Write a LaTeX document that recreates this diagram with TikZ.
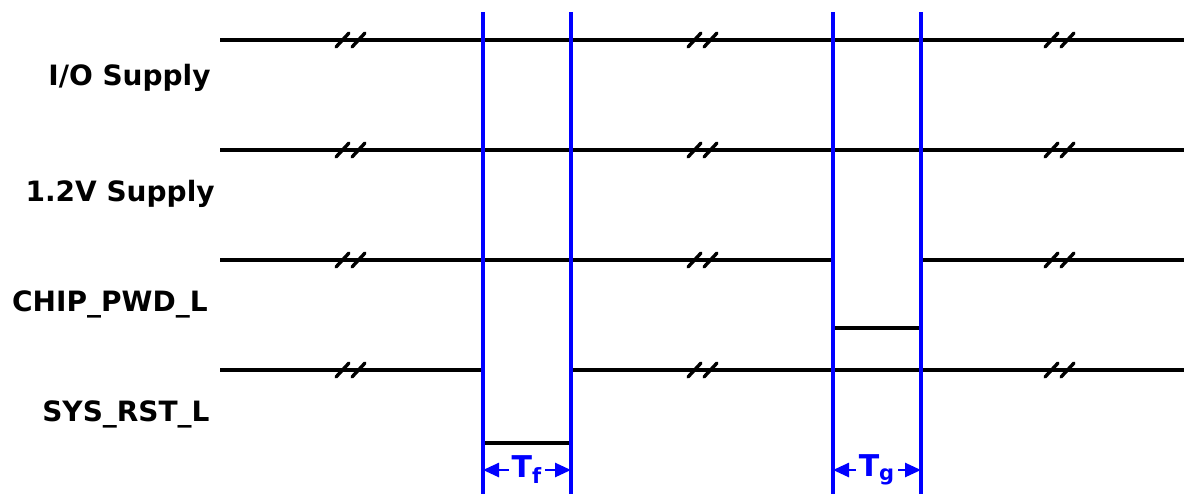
\documentclass[tikz,border=0pt]{standalone}
\usepackage{fontspec}
\setmainfont{DejaVu Sans}
\usepackage{tikz}
\usetikzlibrary{arrows.meta,positioning}
\definecolor{tmblue}{HTML}{0000FF}

\begin{document}
\begin{tikzpicture}[x=0.5pt,y=-0.5pt,font=\bfseries\fontsize{14}{16}\selectfont,
  sig/.style={line width=1.6pt,draw=black},
  edg/.style={line width=1.6pt,draw=tmblue},
  brk/.style={line width=1.7pt,line cap=round},
  lbl/.style={anchor=east,inner sep=0pt},
  dim/.style={{Triangle[length=8pt,width=7pt]}-{Triangle[length=8pt,width=7pt]},line width=1.3pt,color=tmblue},
  tlab/.style={fill=white,inner sep=1.5pt,text=tmblue,font=\bfseries\fontsize{15}{17}\selectfont}]
  \useasboundingbox (0,0) rectangle (1184,494);
  \node[lbl] (io) at (211,78) {I/O Supply};
  \node[lbl] (core) at (215,194) {1.2V Supply};
  \node[lbl] (pwd) at (208,304) {CHIP\_PWD\_L};
  \node[lbl] (rst) at (210,414) {SYS\_RST\_L};
  \coordinate (ioA) at (220,40);  \coordinate (ioB) at (1184,40);
  \coordinate (coreA) at (220,150); \coordinate (coreB) at (1184,150);
  \coordinate (pwdA) at (220,260); \coordinate (pwdB) at (1184,260);
  \coordinate (rstA) at (220,370); \coordinate (rstB) at (1184,370);
  \draw[sig] (ioA) -- (ioB);
  \draw[sig] (coreA) -- (coreB);
  \draw[sig] (pwdA) -- (833,260) -- (833,328) -- (921,328) -- (921,260) -- (pwdB);
  \draw[sig] (rstA) -- (483,370) -- (483,443) -- (571,443) -- (571,370) -- (rstB);
  \foreach \x in {351,703,1060}
    \foreach \y in {40,150,260,370} {
      \draw[brk] (\x-15,\y+7) -- (\x-2,\y-7);
      \draw[brk] (\x+1,\y+7) -- (\x+14,\y-7);
    }
  \foreach \x/\n in {483/tfA,571/tfB,833/tgA,921/tgB} {
    \coordinate (\n) at (\x,470);
    \draw[edg] (\x,12) -- (\x,494);
  }
  \draw[dim] (tfA) -- node[tlab] (tf) {T\textsubscript{f}} (tfB);
  \draw[dim] (tgA) -- node[tlab] (tg) {T\textsubscript{g}} (tgB);
\end{tikzpicture}
\end{document}
